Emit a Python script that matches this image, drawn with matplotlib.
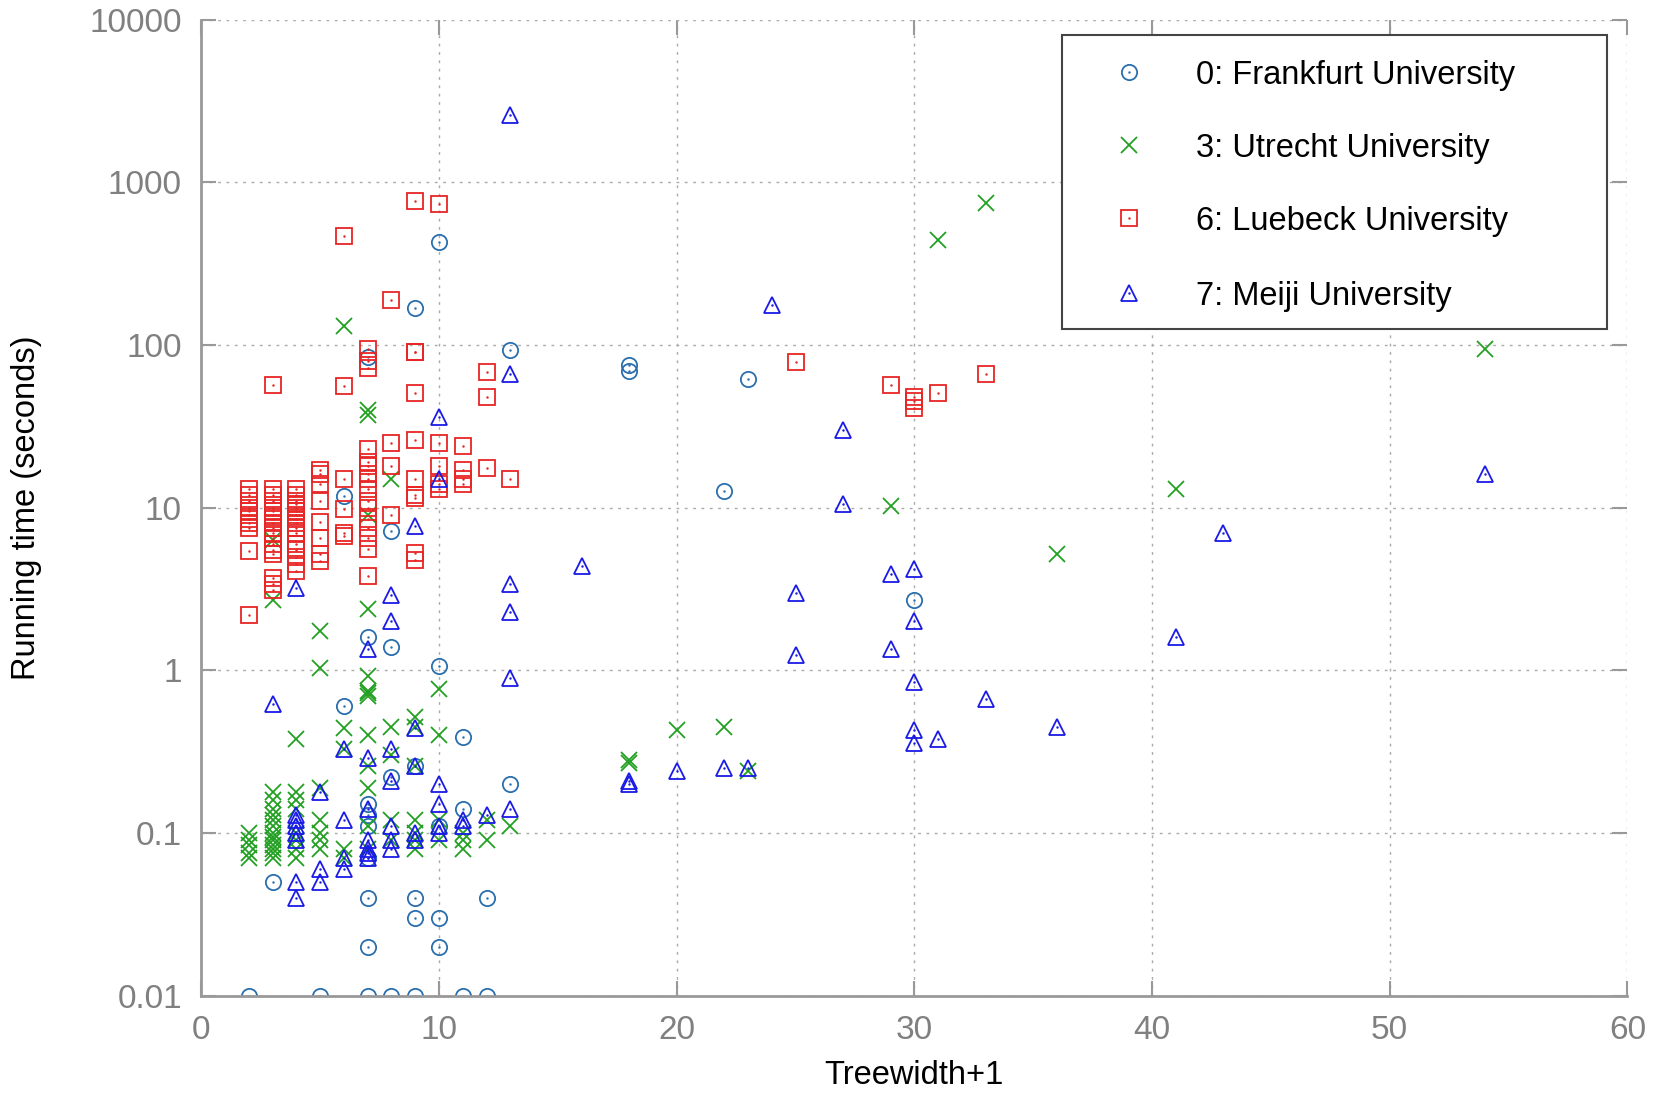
import matplotlib
matplotlib.use('Agg')
import matplotlib.pyplot as plt
from matplotlib.patches import Rectangle

plt.rcParams['font.family'] = ['Liberation Sans', 'DejaVu Sans']

# 0: Frankfurt University (circles)
frankfurt_x = [2, 3, 5, 6, 6, 7, 7, 7, 7, 7, 7, 7, 7, 7, 8, 8, 8, 8, 9, 9, 9, 9, 9,
               10, 10, 10, 10, 10, 11, 11, 11, 12, 12, 13, 13, 18, 18, 22, 23, 30]
frankfurt_y = [0.01, 0.05, 0.01, 11.8, 0.6, 85, 1.6, 0.15, 0.13, 0.11, 0.07, 0.04, 0.02, 0.01,
               7.2, 1.4, 0.22, 0.01, 170, 0.26, 0.04, 0.03, 0.01,
               430, 1.06, 0.11, 0.03, 0.02, 0.39, 0.14, 0.01, 0.04, 0.01, 93, 0.2,
               75, 69, 12.7, 62, 2.7]

# 3: Utrecht University (crosses)
utrecht_x = [2, 2, 2, 2, 2,
             3, 3, 3, 3, 3, 3, 3, 3, 3, 3, 3, 3, 3, 3, 3,
             4, 4, 4, 4, 4, 4, 4, 4,
             5, 5, 5, 5, 5, 5, 5,
             6, 6, 6, 6, 6,
             7, 7, 7, 7, 7, 7, 7, 7, 7, 7, 7, 7, 7,
             8, 8, 8, 8, 8,
             9, 9, 9, 9, 9, 9, 9,
             10, 10, 10, 10, 11, 11, 11, 12, 12, 13,
             18, 18, 20, 22, 23, 29, 31, 33, 36, 41, 54]
utrecht_y = [0.1, 0.09, 0.085, 0.075, 0.07,
             2.7, 6.3, 0.18, 0.16, 0.14, 0.13, 0.12, 0.11, 0.1, 0.095, 0.09, 0.085, 0.08, 0.075, 0.07,
             0.38, 0.18, 0.16, 0.14, 0.1, 0.09, 0.08, 0.07,
             1.75, 1.04, 0.19, 0.12, 0.1, 0.09, 0.08,
             130, 0.44, 0.33, 0.08, 0.07,
             40, 37, 9, 2.4, 0.93, 0.75, 0.73, 0.7, 0.4, 0.26, 0.19, 0.11, 0.08,
             15, 0.45, 0.3, 0.12, 0.09,
             0.52, 0.45, 0.26, 0.12, 0.1, 0.09, 0.08,
             0.77, 0.4, 0.12, 0.09, 0.1, 0.09, 0.08, 0.12, 0.09, 0.11,
             0.28, 0.27, 0.43, 0.45, 0.24, 10.2, 440, 750, 5.2, 13, 95]

# 6: Luebeck University (squares)
luebeck_x = [2] * 11 + [3] * 18 + [4] * 16 + [5] * 8 + [6] * 6 + [7] * 16 + [8] * 4 + \
            [9] * 10 + [10] * 5 + [11] * 4 + [12] * 3 + [13, 25, 29, 30, 30, 30, 31, 33]
luebeck_y = [13, 12, 11, 10, 9.5, 9, 8.5, 8, 7.5, 5.4, 2.2,
             57, 13, 12, 11, 10, 9.5, 9, 8.5, 8, 7.5, 7, 6.5, 6, 5.5, 5.2, 3.7, 3.4, 3.1,
             13, 12, 11, 10.5, 10, 9.5, 9, 8.5, 8, 7.5, 7, 6, 5.5, 5, 4.5, 4.1,
             17, 16, 14, 11, 8.2, 6.5, 5.2, 4.7,
             470, 56, 15, 9.8, 7, 6.7,
             95, 80, 72, 23, 19, 18, 16, 15, 13, 11, 10, 8.5, 7.5, 6.5, 5.6, 3.8,
             190, 25, 18, 9,
             770, 91, 90, 51, 26, 15, 12, 11.5, 5.3, 4.8,
             740, 25, 18, 14, 13,
             24, 17, 15, 14,
             68, 48, 17.5,
             15, 79, 57, 48, 45, 41, 51, 66]

# 7: Meiji University (triangles)
meiji_x = [3] + [4] * 8 + [5] * 3 + [6] * 4 + [7] * 7 + [8] * 7 + [9] * 5 + [10] * 6 + \
          [11] * 2 + [12] + [13] * 6 + [16, 18, 18, 20, 22, 23, 24, 25, 25, 27, 27, 29, 29,
                                       30, 30, 30, 30, 30, 31, 33, 36, 41, 43, 54]
meiji_y = [0.62,
           3.2, 0.13, 0.12, 0.11, 0.1, 0.09, 0.05, 0.04,
           0.18, 0.06, 0.05,
           0.33, 0.12, 0.07, 0.06,
           1.35, 0.29, 0.14, 0.09, 0.08, 0.075, 0.07,
           2.9, 2.0, 0.33, 0.21, 0.11, 0.09, 0.08,
           7.7, 0.44, 0.26, 0.1, 0.09,
           36, 15, 0.2, 0.15, 0.11, 0.1,
           0.12, 0.11, 0.13,
           2600, 66, 3.4, 2.3, 0.9, 0.14,
           4.4, 0.21, 0.2, 0.24, 0.25, 0.25, 175, 3.0, 1.25, 30, 10.5, 3.9, 1.35,
           4.2, 2.0, 0.85, 0.43, 0.36, 0.38, 0.67, 0.45, 1.6, 7, 16]

series = [
    ('0: Frankfurt University', frankfurt_x, frankfurt_y, 'o', '#2a6eae'),
    ('3: Utrecht University', utrecht_x, utrecht_y, 'x', '#22a022'),
    ('6: Luebeck University', luebeck_x, luebeck_y, 's', '#e82424'),
    ('7: Meiji University', meiji_x, meiji_y, '^', '#1a1ae6'),
]

fig = plt.figure(figsize=(16.64, 10.93), dpi=100)
ax = fig.add_axes([0.121, 0.089, 0.857, 0.893])

for label, xs, ys, mk, col in series:
    ax.plot(xs, ys, linestyle='none', marker=mk, markersize=11, markerfacecolor='none',
            markeredgecolor=col, markeredgewidth=1.3)
    if mk != 'x':
        ax.plot(xs, ys, linestyle='none', marker='.', markersize=1.5, color=col)

ax.set_yscale('log')
ax.set_xlim(0, 60)
ax.set_ylim(0.01, 10000)
ax.set_yticks([0.01, 0.1, 1, 10, 100, 1000, 10000])
ax.set_yticklabels(['0.01', '0.1', '1', '10', '100', '1000', '10000'])
ax.minorticks_off()
ax.set_xticks(range(0, 61, 10))

ax.grid(True, linestyle=(0, (2, 4)), color='#aaaaaa', linewidth=1.0)
for side in ['top', 'right']:
    ax.spines[side].set_visible(False)
for side in ['left', 'bottom']:
    ax.spines[side].set_color('#999999')
    ax.spines[side].set_linewidth(2)
ax.tick_params(direction='in', length=11, width=1.5, color='#999999',
               labelcolor='#808080', labelsize=24, top=True, right=True, pad=14)

ax.set_xlabel('Treewidth+1', fontsize=23.5)
ax.set_ylabel('Running time (seconds)', fontsize=23.5)
ax.xaxis.set_label_coords(0.5, -0.066)
ax.yaxis.set_label_coords(-0.112, 0.5)

# legend drawn by hand, gnuplot style
ax.add_patch(Rectangle((0.6034, 0.6833), 0.3825, 0.3015, transform=ax.transAxes,
                       facecolor='white', edgecolor='#444444', linewidth=1.5,
                       zorder=5, clip_on=False))
row_y = [0.9467, 0.8716, 0.7965, 0.7203]
for (label, xs, ys, mk, col), ry in zip(series, row_y):
    ax.plot([0.6503], [ry], transform=ax.transAxes, linestyle='none', marker=mk,
            markersize=11, markerfacecolor='none', markeredgecolor=col,
            markeredgewidth=1.3, zorder=6, clip_on=False)
    if mk != 'x':
        ax.plot([0.6503], [ry], transform=ax.transAxes, linestyle='none', marker='.',
                markersize=1.5, color=col, zorder=6, clip_on=False)
    ax.text(0.6972, ry - 0.0035, label, transform=ax.transAxes, fontsize=23.5,
            va='center', ha='left', color='black', zorder=6)

fig.savefig('out.png', dpi=100)
